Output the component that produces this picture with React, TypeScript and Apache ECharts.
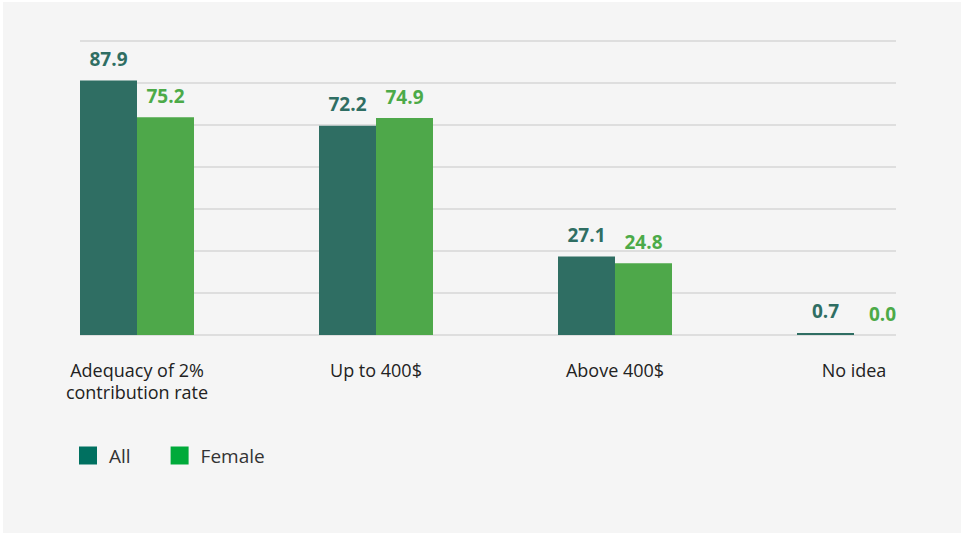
import React, { useEffect, useRef } from "react";
import * as echarts from "echarts";

const categories = ["Adequacy of 2%\ncontribution rate", "Up to 400$", "Above 400$", "No idea"];
const allValues = [87.9, 72.2, 27.1, 0.7];
const femaleValues = [75.2, 74.9, 24.8, 0.0];
const seriesNames = ["All", "Female"];

const FONT = "'Open Sans', sans-serif";

export default function App() {
  const ref = useRef<HTMLDivElement>(null);
  useEffect(() => {
    document.body.style.margin = "0";
    const chart = echarts.init(ref.current!, undefined, { renderer: "svg" });
    const labelFmt = (p: any) => Number(p.value).toFixed(1);
    chart.setOption({
      animation: false,
      backgroundColor: "#ffffff",
      textStyle: { fontFamily: FONT },
      graphic: [
        { type: "rect", z: -10, shape: { x: 3, y: 2, width: 1000, height: 531 }, style: { fill: "#f5f5f5" }, silent: true },
      ],
      legend: {
        left: 79,
        top: 446,
        padding: 0,
        itemWidth: 18,
        itemHeight: 18,
        itemGap: 40,
        icon: "rect",
        textStyle: { fontSize: 19, color: "#333333", fontFamily: FONT, padding: [0, 0, 0, 7] },
        data: [
          { name: seriesNames[0], itemStyle: { color: "#007060" } },
          { name: seriesNames[1], itemStyle: { color: "#00aa3a" } },
        ],
      },
      grid: [
        { left: 17.5, width: 956, top: 41, height: 294, containLabel: false },
        { left: 80, width: 816, top: 41, height: 294, containLabel: false },
      ],
      xAxis: [
        {
          type: "category",
          gridIndex: 0,
          data: categories,
          axisLine: { show: false },
          axisTick: { show: false },
          axisLabel: { fontSize: 18, color: "#222222", lineHeight: 22, margin: 24, fontFamily: FONT, interval: 0 },
        },
        { type: "value", gridIndex: 1, show: false, min: 0, max: 1 },
      ],
      yAxis: [
        { type: "value", gridIndex: 0, min: 0, max: 101.5, interval: 14.5, show: false, splitLine: { show: false } },
        {
          type: "value",
          gridIndex: 1,
          min: 0,
          max: 101.5,
          interval: 14.5,
          axisLine: { show: false },
          axisTick: { show: false },
          axisLabel: { show: false },
          splitLine: { show: true, lineStyle: { color: "#d6d6d6", width: 1.5 } },
        },
      ],
      series: [
        {
          name: seriesNames[0],
          type: "bar",
          xAxisIndex: 0,
          yAxisIndex: 0,
          data: allValues,
          barWidth: 57,
          barGap: "0%",
          itemStyle: { color: "#2f6e63" },
          label: { show: true, position: "top", distance: 12, formatter: labelFmt, color: "#2f6e63", fontWeight: "bold", fontSize: 19, fontFamily: FONT },
        },
        {
          name: seriesNames[1],
          type: "bar",
          xAxisIndex: 0,
          yAxisIndex: 0,
          data: femaleValues,
          barWidth: 57,
          barGap: "0%",
          itemStyle: { color: "#4ea84a" },
          label: { show: true, position: "top", distance: 12, formatter: labelFmt, color: "#4caa48", fontWeight: "bold", fontSize: 19, fontFamily: FONT },
        },
        { type: "scatter", xAxisIndex: 1, yAxisIndex: 1, data: [], silent: true },
      ],
    });
    return () => chart.dispose();
  }, []);
  return (
    <div style={{ width: 961, height: 535, overflow: "hidden", position: "relative" }}>
      <div ref={ref} style={{ width: 1000, height: 535 }} />
    </div>
  );
}
